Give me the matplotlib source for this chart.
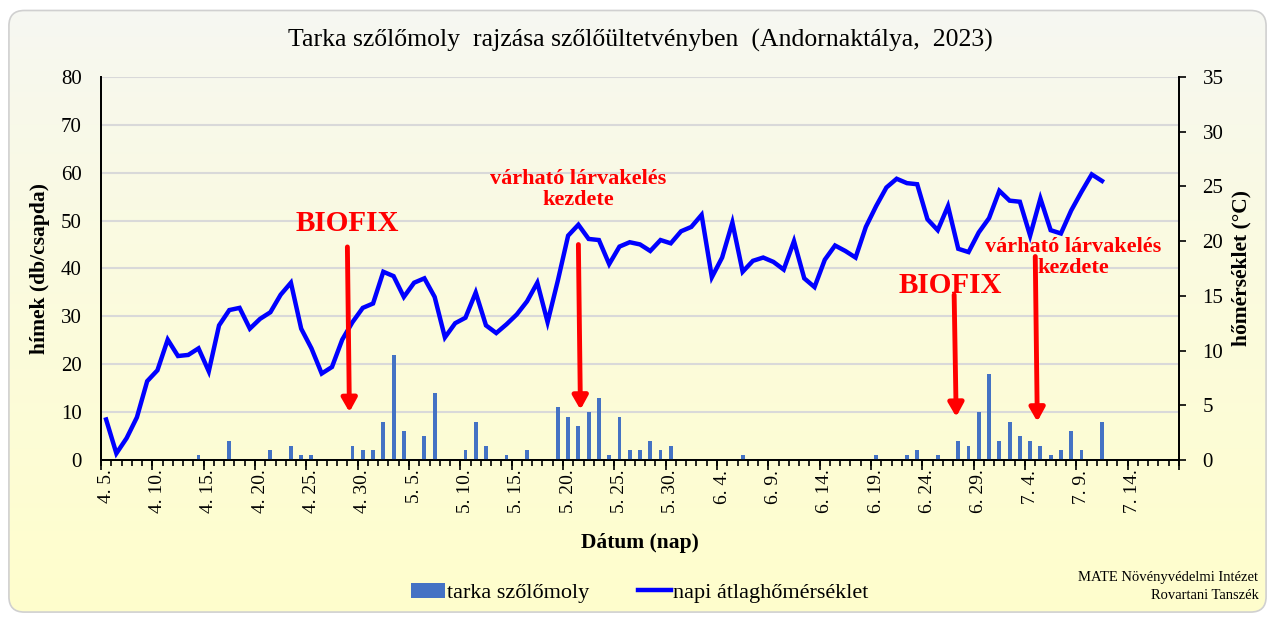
import matplotlib
matplotlib.use("Agg")
import matplotlib.pyplot as plt
import numpy as np
import pandas as pd
from matplotlib.patches import FancyBboxPatch, Patch
from matplotlib.lines import Line2D

plt.rcParams['font.family'] = ['Liberation Serif', 'DejaVu Serif']

# ---------------------------------------------------------------- data
days = pd.date_range('2023-04-05', '2023-07-18')   # category axis (4.5. - 7.18.)

moths = [0, 0, 0, 0, 0, 0, 0, 0, 0, 1,
         0, 0, 4, 0, 0, 0, 2, 0, 3, 1,
         1, 0, 0, 0, 3, 2, 2, 8, 22, 6,
         0, 5, 14, 0, 0, 2, 8, 3, 0, 1,
         0, 2, 0, 0, 11, 9, 7, 10, 13, 1,
         9, 2, 2, 4, 2, 3, 0, 0, 0, 0,
         0, 0, 1, 0, 0, 0, 0, 0, 0, 0,
         0, 0, 0, 0, 0, 1, 0, 0, 1, 2,
         0, 1, 0, 4, 3, 10, 18, 4, 8, 5,
         4, 3, 1, 2, 6, 2, 0, 8]

temp = [3.7, 0.6, 2.0, 3.9, 7.2, 8.2, 11.0, 9.5, 9.6, 10.2,
        8.1, 12.3, 13.7, 13.9, 12.0, 12.9, 13.5, 15.1, 16.2, 12.0,
        10.2, 7.9, 8.5, 11.0, 12.6, 13.9, 14.3, 17.2, 16.8, 14.9,
        16.2, 16.6, 14.9, 11.2, 12.5, 13.0, 15.3, 12.3, 11.6, 12.4,
        13.3, 14.5, 16.2, 12.6, 16.4, 20.5, 21.5, 20.2, 20.1, 17.9,
        19.5, 19.9, 19.7, 19.1, 20.1, 19.8, 20.9, 21.3, 22.4, 16.7,
        18.5, 21.7, 17.2, 18.2, 18.5, 18.1, 17.4, 20.0, 16.6, 15.8,
        18.3, 19.6, 19.1, 18.5, 21.3, 23.2, 24.9, 25.7, 25.3, 25.2,
        22.0, 21.0, 23.2, 19.3, 19.0, 20.8, 22.1, 24.6, 23.7, 23.6,
        20.5, 23.9, 21.0, 20.7, 22.8, 24.5, 26.1, 25.5]

tick_labels = ['4. 5.', '4. 10.', '4. 15.', '4. 20.', '4. 25.', '4. 30.',
               '5. 5.', '5. 10.', '5. 15.', '5. 20.', '5. 25.', '5. 30.',
               '6. 4.', '6. 9.', '6. 14.', '6. 19.', '6. 24.', '6. 29.',
               '7. 4.', '7. 9.', '7. 14.']

# annotations: (text, day index, arrow top, arrow tip) on the left axis scale
notes = [('BIOFIX', 23.5, 44.5, 10.0),
         ('várható lárvakelés\nkezdete', 46.0, 45.0, 10.5),
         ('BIOFIX', 82.6, 34.5, 9.0),
         ('várható lárvakelés\nkezdete', 90.5, 42.5, 8.0)]
note_text_pos = [(23.5, 49.5), (46.0, 56.5), (82.2, 36.5), (94.2, 42.3)]

x = np.arange(len(days))
xm = np.arange(len(moths))
xt = np.arange(len(temp))

# ---------------------------------------------------------------- figure
fig = plt.figure(figsize=(12.75, 6.17), dpi=100)

# background with gradient + rounded frame
bg = fig.add_axes([0, 0, 1, 1], zorder=-10)
bg.set_xlim(0, 1)
bg.set_ylim(0, 1)
bg.axis('off')
grad = np.linspace(0, 1, 256) ** 0.8
top_c = np.array([0.965, 0.969, 0.957])
bot_c = np.array([1.0, 0.996, 0.80])
img = top_c + (bot_c - top_c) * grad[:, None, None]
im = bg.imshow(img, extent=[0, 1, 0, 1], origin='upper', aspect='auto')
frame = FancyBboxPatch((0.007, 0.008), 0.986, 0.975,
                       boxstyle='round,pad=0,rounding_size=0.012',
                       facecolor='none', edgecolor='#d0d0d0', linewidth=1.2,
                       transform=bg.transAxes, mutation_aspect=2.07)
bg.add_patch(frame)
im.set_clip_path(frame)

ax1 = fig.add_axes([0.0792, 0.2545, 0.8455, 0.6207])
ax1.set_facecolor('none')
ax2 = ax1.twinx()

ax1.bar(xm, moths, width=0.38, color='#4472c4', zorder=3)
ax2.plot(xt, temp, color='#0000ff', linewidth=3.2, solid_joinstyle='miter', zorder=4)

ax1.set_xlim(-0.5, len(days) - 0.5)
ax1.set_ylim(0, 80)
ax2.set_ylim(0, 35)
ax1.set_yticks(np.arange(0, 81, 10))
ax2.set_yticks(np.arange(0, 36, 5))
ax1.yaxis.grid(True, color='#d9d9d9', linewidth=1.5)
ax1.set_axisbelow(True)

label_pos = x[::5]
ax1.set_xticks(label_pos)
ax1.set_xticklabels(tick_labels, rotation=90, fontsize=14)
ax1.tick_params(axis='x', which='major', length=0, pad=7)
minor = [b for b in np.arange(-0.5, len(days), 1.0)]
ax1.set_xticks(minor, minor=True)
ax1.tick_params(axis='x', which='minor', length=4, width=1.2, color='black', direction='out')
sec = ax1.secondary_xaxis('bottom')
sec.set_xticks(np.arange(-0.5, len(days), 5.0))
sec.tick_params(length=7, width=1.2, labelbottom=False)
sec.spines['bottom'].set_visible(False)

ax1.tick_params(axis='y', length=0, labelsize=15, pad=14)
ax2.tick_params(axis='y', length=5, width=1.2, labelsize=15, pad=12, direction='out')

for a in (ax1, ax2):
    a.spines['top'].set_visible(False)
    for s in ('left', 'right', 'bottom'):
        a.spines[s].set_linewidth(1.3)
        a.spines[s].set_color('black')

ax1.set_ylabel('hímek (db/csapda)', fontsize=15.5, fontweight='bold', labelpad=8)
ax2.set_ylabel('hőmérséklet (°C)', fontsize=15.5, fontweight='bold', labelpad=6)
ax1.set_xlabel('Dátum (nap)', fontsize=15.5, fontweight='bold', labelpad=14)

fig.text(0.502, 0.935, 'Tarka szőlőmoly  rajzása szőlőültetvényben  (Andornaktálya,  2023)',
         ha='center', va='center', fontsize=18.5)

# arrows and notes (drawn in left-axis data coordinates)
for (txt, xi, ytop, ytip), (tx, ty) in zip(notes, note_text_pos):
    ax2.annotate('', xy=(xi + 0.2, ytip), xytext=(xi, ytop),
                 xycoords=ax1.transData, textcoords=ax1.transData,
                 arrowprops=dict(arrowstyle='-|>,head_length=0.8,head_width=0.45',
                                 color='#ff0000', lw=3.5, shrinkA=0, shrinkB=0),
                 zorder=6)
    big = txt == 'BIOFIX'
    ax2.text(tx, ty, txt, transform=ax1.transData, ha='center', va='center',
             color='#ff0000', fontweight='bold', fontsize=21 if big else 16,
             linespacing=1.1, zorder=6)

handles = [Patch(facecolor='#4472c4', edgecolor='none'),
           Line2D([0], [0], color='#0000ff', linewidth=3.2)]
fig.legend(handles, ['tarka szőlőmoly', 'napi átlaghőmérséklet'],
           loc='center', bbox_to_anchor=(0.502, 0.039), ncol=2, frameon=False,
           fontsize=16, handlelength=1.5, handletextpad=0.1, columnspacing=2.2)

fig.text(0.987, 0.064, 'MATE Növényvédelmi Intézet', ha='right', va='center', fontsize=10.5)
fig.text(0.987, 0.035, 'Rovartani Tanszék', ha='right', va='center', fontsize=10.5)

fig.savefig('out.png', dpi=100)
